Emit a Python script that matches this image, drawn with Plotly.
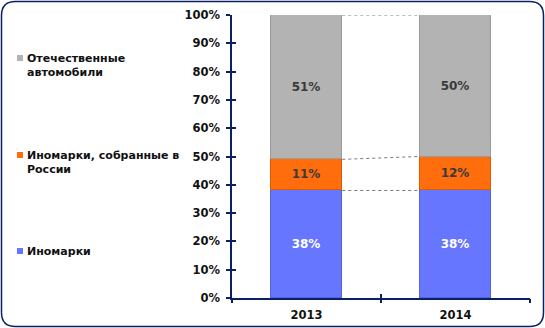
import plotly.graph_objects as go

# Market share of passenger cars by origin, %
years = ["2013", "2014"]
foreign = [38, 38]
foreign_local = [11, 12]
domestic = [51, 50]

series_names = ["Иномарки", "Иномарки, собранные в<br>России", "Отечественные<br>автомобили"]
series_values = [foreign, foreign_local, domestic]
series_colors = ["#6676ff", "#ff6d0c", "#b3b3b3"]
edge_colors = ["#5563e0", "#e05a00", "#9a9a9a"]
label_colors = ["#ffffff", "#3a3a3a", "#3a3a3a"]

y_ticks = list(range(0, 101, 10))
y_tick_text = [f"{v}%" for v in y_ticks]

W, H = 545, 328
ML, MR, MT, MB = 232, 15, 15, 30
PW, PH = W - ML - MR, H - MT - MB
FONT = "DejaVu Sans"
AXIS_COLOR = "#0b1f63"
BAR_W = 0.48


def px(x):
    return (x - ML) / PW


def py(y):
    return (H - MB - y) / PH


xs = list(range(len(years)))
fig = go.Figure()

for name, vals, col, ec, lc in zip(series_names, series_values, series_colors,
                                   edge_colors, label_colors):
    fig.add_trace(go.Bar(
        x=xs, y=vals, name=name, width=BAR_W,
        marker=dict(color=col, line=dict(color=ec, width=1)),
        text=[f"{v}%" for v in vals], textposition="inside",
        insidetextanchor="middle", textangle=0,
        textfont=dict(family=FONT, size=12, color=lc, weight="bold"),
        showlegend=False, hoverinfo="skip",
    ))

# dotted connector lines between the stacked segment tops
cum = [0] * len(years)
for vals in series_values:
    cum = [c + v for c, v in zip(cum, vals)]
    for i in range(len(years) - 1):
        fig.add_trace(go.Scatter(
            x=[xs[i] + BAR_W / 2, xs[i + 1] - BAR_W / 2], y=[cum[i], cum[i + 1]],
            mode="lines", line=dict(color="#7a7a7a", width=1, dash="dot"),
            showlegend=False, hoverinfo="skip",
        ))

axis_font = dict(family=FONT, size=11.5, color="#111111", weight="bold")
tick_common = dict(showgrid=False, zeroline=False, automargin=False)
fig.update_layout(
    template="none",
    width=W, height=H,
    margin=dict(l=ML, r=MR, t=MT, b=MB, autoexpand=False),
    paper_bgcolor="white", plot_bgcolor="white",
    barmode="stack", bargap=0,
    xaxis=dict(range=[-0.5, 1.5], tickvals=xs, ticktext=years, ticks="",
               showline=True, linecolor=AXIS_COLOR, linewidth=1.5,
               tickfont=axis_font, ticklabelstandoff=5, **tick_common),
    xaxis2=dict(overlaying="x", matches="x", tickvals=[-0.5, 0.5, 1.5],
                ticks="outside", ticklen=4, tickcolor=AXIS_COLOR, tickwidth=1.5,
                showticklabels=False, **tick_common),
    xaxis3=dict(overlaying="x", matches="x", tickvals=[-0.5, 0.5, 1.5],
                ticks="inside", ticklen=4, tickcolor=AXIS_COLOR, tickwidth=1.5,
                showticklabels=False, **tick_common),
    yaxis=dict(range=[0, 100], tickvals=y_ticks, ticktext=y_tick_text,
               ticks="outside", ticklen=4, tickcolor=AXIS_COLOR, tickwidth=1.5,
               showline=True, linecolor=AXIS_COLOR, linewidth=1.5,
               tickfont=axis_font, ticklabelstandoff=4, **tick_common),
    yaxis2=dict(overlaying="y", matches="y", tickvals=y_ticks,
                ticks="inside", ticklen=4, tickcolor=AXIS_COLOR, tickwidth=1.5,
                showticklabels=False, **tick_common),
)
# invisible traces so the overlay axes render
fig.add_trace(go.Scatter(x=[0], y=[0], xaxis="x2", yaxis="y2", mode="markers",
                         marker=dict(opacity=0), showlegend=False, hoverinfo="skip"))
fig.add_trace(go.Scatter(x=[0], y=[0], xaxis="x3", yaxis="y2", mode="markers",
                         marker=dict(opacity=0), showlegend=False, hoverinfo="skip"))

# legend: key squares and labels, top item first
legend_rows = [(2, 58), (1, 155), (0, 251)]
shapes = []
annotations = []
for idx, yc in legend_rows:
    shapes.append(dict(type="rect", xref="paper", yref="paper",
                       x0=px(17), x1=px(23), y0=py(yc + 3), y1=py(yc - 3),
                       fillcolor=series_colors[idx], line=dict(width=0)))
    annotations.append(dict(xref="paper", yref="paper", x=px(25), y=py(yc - 8),
                            xanchor="left", yanchor="top", align="left",
                            showarrow=False, text=series_names[idx],
                            font=dict(family=FONT, size=11, color="#111111",
                                      weight="bold")))

# rounded outer frame
x0, y0, x1, y1, r = 1.5, 1.5, 543.5, 326.5, 14
frame = (
    f"M {px(x0 + r)},{py(y0)} L {px(x1 - r)},{py(y0)} "
    f"Q {px(x1)},{py(y0)} {px(x1)},{py(y0 + r)} "
    f"L {px(x1)},{py(y1 - r)} Q {px(x1)},{py(y1)} {px(x1 - r)},{py(y1)} "
    f"L {px(x0 + r)},{py(y1)} Q {px(x0)},{py(y1)} {px(x0)},{py(y1 - r)} "
    f"L {px(x0)},{py(y0 + r)} Q {px(x0)},{py(y0)} {px(x0 + r)},{py(y0)} Z"
)
shapes.append(dict(type="path", xref="paper", yref="paper", path=frame,
                   line=dict(color=AXIS_COLOR, width=1.5), layer="above"))

fig.update_layout(shapes=shapes, annotations=annotations)
fig.write_html("out.html")
